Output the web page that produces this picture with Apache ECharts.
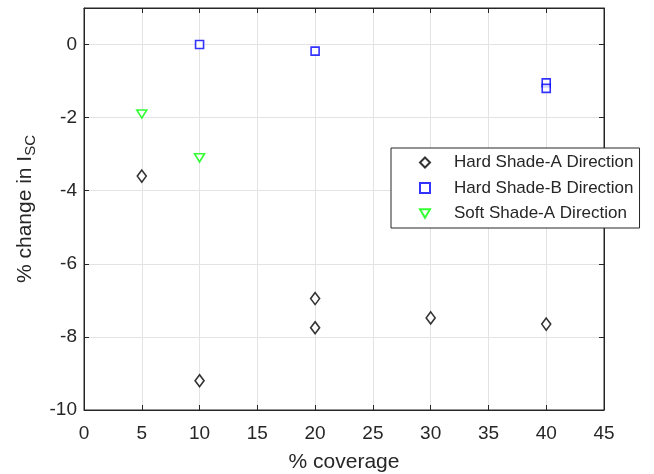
<!DOCTYPE html>
<html><head><meta charset="utf-8">
<script src="https://cdn.jsdelivr.net/npm/echarts@6/dist/echarts.min.js"></script>
<style>html,body{margin:0;padding:0;background:#fff}#c{width:654px;height:474px}</style>
</head><body><div id="c"></div>
<script>
const seriesNames = ['Hard Shade-A Direction','Hard Shade-B Direction','Soft Shade-A Direction'];
const hardA_x = [5, 10, 20, 20, 30, 40];
const hardA_y = [-3.6, -9.2, -6.95, -7.75, -7.48, -7.65];
const hardB_x = [10, 20, 40, 40];
const hardB_y = [0, -0.18, -1.05, -1.2];
const softA_x = [5, 10];
const softA_y = [-1.9, -3.1];
const xTicks = [0,5,10,15,20,25,30,35,40,45];
const yTicks = [-10,-8,-6,-4,-2,0];

const pairs = (xs, ys) => xs.map((x,i)=>[x, ys[i]]);
const downTri = 'path://M0,0 L10,0 L5,8.5 Z';
const font = 'Liberation Sans, Arial, Helvetica, sans-serif';
const txt = '#262626';

const mirrorAxis = (extra) => Object.assign({
  type: 'value', axisLine: {show: true, onZero: false, lineStyle: {color: txt}},
  axisTick: {inside: true, length: 5, lineStyle: {color: txt}},
  axisLabel: {show: false}, splitLine: {show: false}
}, extra);

const chart = echarts.init(document.getElementById('c'));
chart.setOption({
  animation: false,
  textStyle: {fontFamily: font},
  grid: {left: 84, right: 50, top: 8, bottom: 64, show: true, borderColor: txt, borderWidth: 1,
         outerBoundsMode: 'none', containLabel: false},
  xAxis: [{
    type: 'value', min: 0, max: 45, interval: 5,
    axisLine: {show: true, onZero: false, lineStyle: {color: txt}},
    axisTick: {inside: true, length: 5, lineStyle: {color: txt}},
    axisLabel: {color: txt, fontSize: 19, margin: 14, fontFamily: font,
      formatter: v => xTicks.includes(v) ? String(v) : ''},
    splitLine: {show: true, lineStyle: {color: '#e3e3e3'}},
    name: '% coverage', nameLocation: 'middle', nameGap: 42,
    nameTextStyle: {color: txt, fontSize: 21, fontFamily: font}
  }, mirrorAxis({position: 'top', min: 0, max: 45, interval: 5})],
  yAxis: [{
    type: 'value', min: -10, max: 1, interval: 2,
    axisLine: {show: true, onZero: false, lineStyle: {color: txt}},
    axisTick: {inside: true, length: 5, lineStyle: {color: txt}},
    axisLabel: {color: txt, fontSize: 19, margin: 7, fontFamily: font,
      formatter: v => yTicks.includes(v) ? String(v) : ''},
    splitLine: {show: true, lineStyle: {color: '#e3e3e3'}},
    name: '{a|% change in I}{b|SC}', nameLocation: 'middle', nameGap: 46, nameRotate: 90,
    nameTextStyle: {rich: {
      a: {color: txt, fontSize: 21, fontFamily: font},
      b: {color: txt, fontSize: 15, fontFamily: font, verticalAlign: 'bottom', padding: [10,0,0,0]}
    }}
  }, mirrorAxis({position: 'right', min: -10, max: 1, interval: 2})],
  legend: {
    orient: 'vertical', left: 391, top: 148,
    backgroundColor: '#fff', borderColor: txt, borderWidth: 1,
    padding: [6, 6, 6, 28], itemGap: 8.5, itemWidth: 10, itemHeight: 10,
    textStyle: {color: txt, fontSize: 17, lineHeight: 17, fontFamily: font, padding: [0,0,0,19]},
    data: seriesNames
  },
  series: [
    {name: seriesNames[0], type: 'scatter', data: pairs(hardA_x, hardA_y),
     symbol: 'diamond', symbolSize: [9, 12],
     itemStyle: {color: '#fff', borderColor: '#000', borderWidth: 1.6}},
    {name: seriesNames[1], type: 'scatter', data: pairs(hardB_x, hardB_y),
     symbol: 'rect', symbolSize: 8,
     itemStyle: {color: '#fff', borderColor: '#0000ff', borderWidth: 1.6}},
    {name: seriesNames[2], type: 'scatter', data: pairs(softA_x, softA_y),
     symbol: downTri, symbolSize: [10, 8],
     itemStyle: {color: '#fff', borderColor: '#00ff00', borderWidth: 1.6}}
  ]
});
</script></body></html>
